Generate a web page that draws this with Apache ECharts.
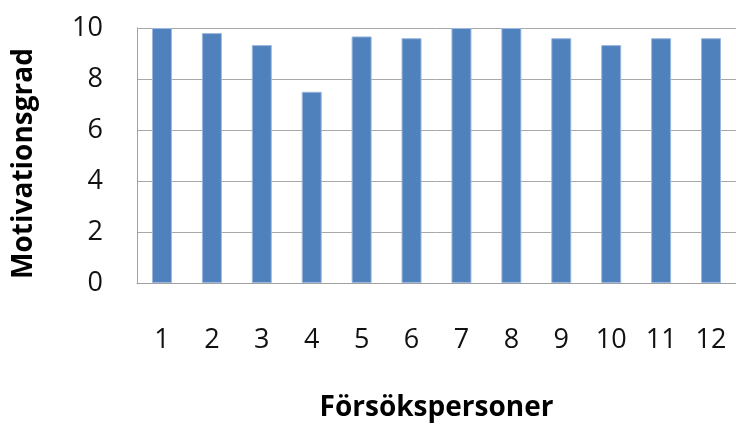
<!DOCTYPE html>
<html>
<head>
<meta charset="utf-8">
<script src="https://cdn.jsdelivr.net/npm/echarts@6/dist/echarts.min.js"></script>
<style>
  html, body { margin: 0; padding: 0; background: #ffffff; }
  #chart { width: 736px; height: 428px; }
</style>
</head>
<body>
<div id="chart"></div>
<script>
// Motivation score per test subject
const subjects = ['1', '2', '3', '4', '5', '6', '7', '8', '9', '10', '11', '12'];
const motivation = [10, 9.8, 9.33, 7.5, 9.67, 9.6, 10, 10, 9.6, 9.33, 9.6, 9.6];
const yTicks = [0, 2, 4, 6, 8, 10];

const font = '"Open Sans", "Liberation Sans", sans-serif';
const chart = echarts.init(document.getElementById('chart'), null, { renderer: 'canvas' });

chart.setOption({
  animation: false,
  backgroundColor: '#ffffff',
  grid: { left: 137, top: 28, width: 600, height: 255, containLabel: false },
  xAxis: {
    type: 'category',
    data: subjects,
    name: 'Försökspersoner',
    nameLocation: 'middle',
    nameGap: 111,
    nameTextStyle: { fontFamily: font, fontSize: 28, fontWeight: 'bold', color: '#000' },
    axisLine: { show: true, lineStyle: { color: '#a0a0a0', width: 1 } },
    axisTick: { show: false },
    axisLabel: { fontFamily: font, fontSize: 27, color: '#111', margin: 44 },
    splitLine: { show: false }
  },
  yAxis: {
    type: 'value',
    min: yTicks[0],
    max: yTicks[yTicks.length - 1],
    interval: yTicks[1] - yTicks[0],
    name: 'Motivationsgrad',
    nameLocation: 'middle',
    nameGap: 99,
    nameTextStyle: { fontFamily: font, fontSize: 28, fontWeight: 'bold', color: '#000', padding: [0, 16, 0, 0] },
    axisLine: { show: true, lineStyle: { color: '#a0a0a0', width: 1 } },
    axisTick: { show: false },
    axisLabel: { fontFamily: font, fontSize: 27, color: '#111', margin: 34 },
    splitLine: { show: true, lineStyle: { color: '#a8a8a8', width: 1 } }
  },
  series: [{
    type: 'bar',
    data: motivation,
    barWidth: 20,
    itemStyle: { color: '#4f81bd', borderColor: '#9cb8df', borderWidth: 1 }
  }]
});
</script>
</body>
</html>
